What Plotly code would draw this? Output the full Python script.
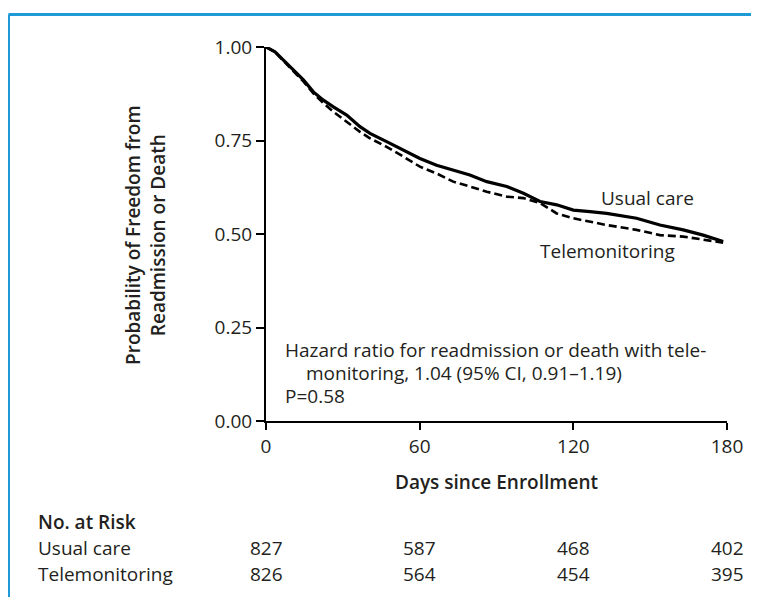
import plotly.graph_objects as go

# ---- data ----
days = [0, 3.5, 6.8, 10.7, 14.6, 18.5, 22.4, 26.3, 31.5, 36.7, 40.6, 47.1, 53.6, 60.1,
        66.6, 73.1, 79.6, 86.2, 94, 100.5, 107, 113.5, 120, 126.5, 133, 144.7, 153.8,
        162.9, 170.7, 178.5]
usual_care = [1.0, 0.987, 0.965, 0.939, 0.912, 0.880, 0.858, 0.840, 0.818, 0.787, 0.769,
              0.747, 0.725, 0.702, 0.684, 0.671, 0.658, 0.640, 0.627, 0.609, 0.587, 0.578,
              0.564, 0.560, 0.555, 0.542, 0.524, 0.511, 0.497, 0.480]
telemonitoring = [1.0, 0.987, 0.963, 0.936, 0.908, 0.876, 0.850, 0.827, 0.800, 0.773, 0.756,
                  0.733, 0.707, 0.680, 0.662, 0.640, 0.627, 0.613, 0.600, 0.596, 0.583, 0.555,
                  0.542, 0.533, 0.524, 0.511, 0.497, 0.493, 0.484, 0.477]

x_ticks = [0, 60, 120, 180]
y_ticks = [0.0, 0.25, 0.5, 0.75, 1.0]
y_tick_labels = ["0.00", "0.25", "0.50", "0.75", "1.00"]
risk_groups = ["Usual care", "Telemonitoring"]
risk_usual = [827, 587, 468, 402]
risk_tele = [826, 564, 454, 395]

TXT = "#231f20"
FONT = "Open Sans, Noto Sans, sans-serif"
NUMFONT = "Open Sans, Noto Sans, sans-serif"
FS = 19

# page offset (browser body margin)
OFF = 8
# plot area in page pixels
L, R, T, B = 266, 727, 47, 421
W, H = 759 - OFF, 597 - OFF


def py(p):  # page pixel y -> paper y
    return (B - p) / (B - T)


def px(p):  # page pixel x -> paper x
    return (p - L) / (R - L)


fig = go.Figure()
fig.add_trace(go.Scatter(x=days, y=telemonitoring, mode="lines", name="Telemonitoring",
                         line=dict(color="black", width=2.6, dash="8px,4px"),
                         cliponaxis=False, showlegend=False))
fig.add_trace(go.Scatter(x=days, y=usual_care, mode="lines", name="Usual care",
                         line=dict(color="black", width=3.2),
                         cliponaxis=False, showlegend=False))

regular = dict(family=FONT, size=FS, color=TXT)
semibold = dict(family=FONT, size=FS, color=TXT, weight=600)

annotations = []
# curve labels
annotations.append(dict(x=148.8, y=0.596, xref="x", yref="y", text="Usual care",
                        xanchor="center", yanchor="middle", showarrow=False, font=regular))
annotations.append(dict(x=133.5, y=0.4545, xref="x", yref="y", text="Telemonitoring",
                        xanchor="center", yanchor="middle", showarrow=False, font=regular))
# hazard ratio text
hr_lines = [("Hazard ratio for readmission or death with tele-", 283, 350),
            ("monitoring, 1.04 (95% CI, 0.91\u20131.19)", 304, 373),
            ("P=0.58", 283, 396)]
for t, xx, yy in hr_lines:
    annotations.append(dict(x=px(xx), y=py(yy), xref="paper", yref="paper", text=t,
                            xanchor="left", yanchor="middle", showarrow=False,
                            font=regular))
# axis titles
annotations.append(dict(x=px(145), y=py(235), xref="paper", yref="paper",
                        text="Probability of Freedom from<br>Readmission or Death",
                        textangle=-90, xanchor="center", yanchor="middle",
                        showarrow=False, font=semibold))
annotations.append(dict(x=px(496), y=py(482), xref="paper", yref="paper",
                        text="Days since Enrollment", xanchor="center", yanchor="middle",
                        showarrow=False, font=semibold))
# number at risk
annotations.append(dict(x=px(36), y=py(522), xref="paper", yref="paper",
                        text="No. at Risk", xanchor="left", yanchor="middle",
                        showarrow=False, font=semibold))
for name, vals, yy in [(risk_groups[0], risk_usual, 548), (risk_groups[1], risk_tele, 574)]:
    annotations.append(dict(x=px(36), y=py(yy), xref="paper", yref="paper", text=name,
                            xanchor="left", yanchor="middle", showarrow=False,
                            font=regular))
    for xv, v in zip(x_ticks, vals):
        annotations.append(dict(x=xv, y=py(yy), xref="x", yref="paper", text=str(v),
                                xanchor="center", yanchor="middle", showarrow=False,
                                font=dict(family=NUMFONT, size=FS, color=TXT)))

# blue frame (top and left edges visible)
BLUE = "#1f9ad6"
shapes = [dict(type="line", xref="paper", yref="paper", x0=px(8.5), x1=px(780),
               y0=py(14.5), y1=py(14.5), line=dict(color=BLUE, width=3)),
          dict(type="line", xref="paper", yref="paper", x0=px(8.5), x1=px(8.5),
               y0=py(14.5), y1=py(620), line=dict(color=BLUE, width=3))]

fig.update_layout(
    width=W, height=H,
    margin=dict(l=L - OFF, r=W - (R - OFF), t=T - OFF, b=H - (B - OFF), pad=0),
    plot_bgcolor="white", paper_bgcolor="white",
    annotations=annotations, shapes=shapes,
    xaxis=dict(range=[0, 180], tickvals=x_ticks, ticktext=[str(v) for v in x_ticks],
               showline=True, linecolor="black", linewidth=2, ticks="outside",
               ticklen=7, tickwidth=2, tickcolor="black", showgrid=False, zeroline=False,
               tickfont=dict(family=NUMFONT, size=FS, color=TXT)),
    yaxis=dict(range=[0, 1], tickvals=y_ticks, ticktext=y_tick_labels,
               showline=True, linecolor="black", linewidth=2, ticks="outside",
               ticklen=8, tickwidth=2, tickcolor="black", showgrid=False, zeroline=False,
               tickfont=dict(family=NUMFONT, size=FS, color=TXT)),
)

fig.write_html("out.html")
